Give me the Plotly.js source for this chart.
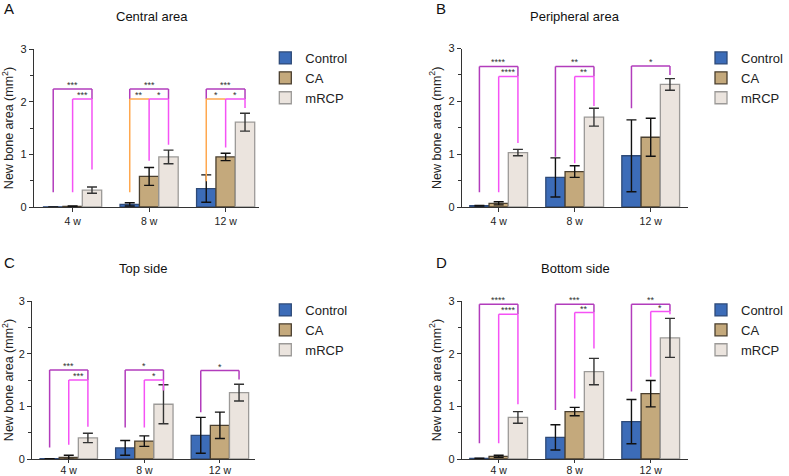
<!DOCTYPE html>
<html>
<head>
<meta charset="utf-8">
<script src="https://cdn.plot.ly/plotly-3.0.1.min.js"></script>
<style>html,body{margin:0;padding:0;background:#fff;}#chart{width:789px;height:476px;}</style>
</head>
<body>
<div id="chart"></div>
<script>
// ---------------- data ----------------
const categories = ['4 w', '8 w', '12 w'];
const groupNames = ['Control', 'CA', 'mRCP'];

const centralControl = [0.003, 0.05, 0.35];
const centralControlSD = [0.0, 0.03, 0.26];
const centralCA = [0.01, 0.58, 0.95];
const centralCASD = [0.01, 0.17, 0.07];
const centralMRCP = [0.32, 0.95, 1.61];
const centralMRCPSD = [0.06, 0.13, 0.17];

const peripheralControl = [0.025, 0.56, 0.97];
const peripheralControlSD = [0.005, 0.37, 0.68];
const peripheralCA = [0.07, 0.67, 1.32];
const peripheralCASD = [0.03, 0.11, 0.36];
const peripheralMRCP = [1.03, 1.70, 2.32];
const peripheralMRCPSD = [0.06, 0.17, 0.11];

const topControl = [0.005, 0.21, 0.45];
const topControlSD = [0.0, 0.14, 0.34];
const topCA = [0.03, 0.34, 0.64];
const topCASD = [0.04, 0.10, 0.25];
const topMRCP = [0.40, 1.04, 1.26];
const topMRCPSD = [0.09, 0.37, 0.16];

const bottomControl = [0.01, 0.41, 0.71];
const bottomControlSD = [0.005, 0.24, 0.42];
const bottomCA = [0.05, 0.90, 1.24];
const bottomCASD = [0.02, 0.08, 0.25];
const bottomMRCP = [0.79, 1.66, 2.30];
const bottomMRCPSD = [0.11, 0.25, 0.37];

// significance brackets: [category index, group from, group to, top, leg from, leg to, label, kind]
const centralBrackets = [
  [0, 0, 2, 2.24, 0.28, 2.05, '***', 'P'], [0, 1, 2, 2.05, 0.28, 0.71, '***', 'M'],
  [1, 0, 2, 2.24, 2.05, 2.05, '***', 'P'], [1, 0, 1, 2.05, 0.28, 2.05, '**', 'O'], [1, 1, 2, 2.05, 0.88, 1.18, '*', 'M'],
  [2, 0, 2, 2.24, 2.05, 2.05, '***', 'P'], [2, 0, 1, 2.05, 0.49, 2.05, '*', 'O'], [2, 1, 2, 2.05, 1.13, 1.88, '*', 'M']
];
const peripheralBrackets = [
  [0, 0, 2, 2.66, 0.28, 2.47, '****', 'P'], [0, 1, 2, 2.47, 0.28, 1.21, '****', 'M'],
  [1, 0, 2, 2.66, 0.95, 2.47, '**', 'P'], [1, 1, 2, 2.47, 0.83, 1.91, '**', 'M'],
  [2, 0, 2, 2.67, 1.87, 2.50, '*', 'P']
];
const topBrackets = [
  [0, 0, 2, 1.69, 0.22, 1.50, '***', 'P'], [0, 1, 2, 1.50, 0.27, 0.61, '***', 'M'],
  [1, 0, 2, 1.69, 0.60, 1.50, '*', 'P'], [1, 1, 2, 1.50, 0.60, 1.30, '*', 'M'],
  [2, 0, 2, 1.68, 0.89, 1.51, '*', 'P']
];
const bottomBrackets = [
  [0, 0, 2, 2.94, 0.30, 2.75, '****', 'P'], [0, 1, 2, 2.75, 0.30, 1.04, '****', 'M'],
  [1, 0, 2, 2.94, 0.93, 2.78, '***', 'P'], [1, 1, 2, 2.78, 1.15, 2.10, '**', 'M'],
  [2, 0, 2, 2.94, 1.28, 2.80, '**', 'P'], [2, 1, 2, 2.80, 1.56, 2.75, '*', 'M']
];

const panelTitles = ['Central area', 'Peripheral area', 'Top side', 'Bottom side'];
const panelLetters = ['A', 'B', 'C', 'D'];
const yTitle = 'New bone area (mm<sup>2</sup>)';

// ---------------- styling / layout ----------------
const W = 789, H = 476;
const FONT = '"Liberation Sans", Arial, Helvetica, sans-serif';
const fills = ['#3c6cb8', '#c4a97c', '#ebe4de'];
const outlines = ['#2e4a78', '#4a3f2e', '#9c9a98'];
const errColors = ['#111', '#111', '#333'];
const bracketColors = { P: '#b23cbc', M: '#f552f5', O: '#ffa84f' };
const BARGAP = 0.24;
const barW = (1 - BARGAP) / 3;

const panels = [
  { ctrl: centralControl, ctrlSD: centralControlSD, ca: centralCA, caSD: centralCASD, m: centralMRCP, mSD: centralMRCPSD, br: centralBrackets,
    px: [35, 267], py: [49, 207], xr: [-0.506, 2.43], leg: [274, 43], title: [157, 16.5], letter: [9.5, 8.5], xtl: 4, xso: 0 },
  { ctrl: peripheralControl, ctrlSD: peripheralControlSD, ca: peripheralCA, caSD: peripheralCASD, m: peripheralMRCP, mSD: peripheralMRCPSD, br: peripheralBrackets,
    px: [477, 710], py: [48.5, 207], xr: [-0.484, 2.484], leg: [724, 43], title: [594, 16.5], letter: [455.5, 8], xtl: 4, xso: 0 },
  { ctrl: topControl, ctrlSD: topControlSD, ca: topCA, caSD: topCASD, m: topMRCP, mSD: topMRCPSD, br: topBrackets,
    px: [33, 263], py: [301, 459], xr: [-0.487, 2.46], leg: [274, 295], title: [148, 268], letter: [9.5, 262], xtl: 3, xso: -2 },
  { ctrl: bottomControl, ctrlSD: bottomControlSD, ca: bottomCA, caSD: bottomCASD, m: bottomMRCP, mSD: bottomMRCPSD, br: bottomBrackets,
    px: [477, 710], py: [301, 459], xr: [-0.484, 2.484], leg: [724, 295], title: [594.5, 268], letter: [455.5, 262], xtl: 3, xso: -2 }
];

const data = [];
const layout = {
  width: W, height: H,
  margin: { l: 0, r: 0, t: 0, b: 0 },
  paper_bgcolor: '#fff', plot_bgcolor: '#fff',
  font: { family: FONT, color: '#222', size: 11 },
  barmode: 'group', bargap: BARGAP, bargroupgap: 0,
  shapes: [], annotations: []
};

panels.forEach((p, i) => {
  const n = i === 0 ? '' : String(i + 1);
  const xa = 'x' + n, ya = 'y' + n;
  const legName = 'legend' + n;
  const series = [[p.ctrl, p.ctrlSD], [p.ca, p.caSD], [p.m, p.mSD]];
  series.forEach((s, g) => {
    data.push({
      type: 'bar', x: categories, y: s[0], name: groupNames[g],
      xaxis: xa, yaxis: ya, legend: legName,
      marker: { color: fills[g], line: { color: outlines[g], width: 1.3 } },
      error_y: { type: 'data', array: s[1], visible: true, color: errColors[g], thickness: 1.4, width: 5 },
      hoverinfo: 'skip'
    });
  });
  layout['xaxis' + n] = {
    domain: [p.px[0] / W, p.px[1] / W], anchor: ya, type: 'category', range: p.xr,
    showline: true, linecolor: '#333', linewidth: 1, ticks: 'outside', ticklen: p.xtl, tickcolor: '#333',
    ticklabelstandoff: p.xso,
    showgrid: false, zeroline: false, tickfont: { size: 10.5, family: FONT, color: '#222' }, fixedrange: true
  };
  layout['yaxis' + n] = {
    domain: [1 - p.py[1] / H, 1 - p.py[0] / H], anchor: xa, range: [0, 3], dtick: 1,
    showline: true, linecolor: '#333', linewidth: 1, ticks: 'outside', ticklen: 4, tickcolor: '#333',
    minor: { dtick: 0.5, ticks: 'outside', ticklen: 3, tickcolor: '#333', showgrid: false },
    showgrid: false, zeroline: false, tickfont: { size: 11, family: FONT, color: '#222' },
    title: { text: yTitle, font: { size: 12.5, family: FONT, color: '#222' }, standoff: 4 }, fixedrange: true
  };
  layout[legName] = {
    x: p.leg[0] / W, y: 1 - p.leg[1] / H, xanchor: 'left', yanchor: 'top',
    font: { size: 13, family: FONT, color: '#222' }, bgcolor: 'rgba(0,0,0,0)', borderwidth: 0,
    traceorder: 'normal', itemclick: false, itemdoubleclick: false
  };
  p.br.forEach(b => {
    const [c, g1, g2, top, l1, l2, lab, kind] = b;
    const x1 = c + (g1 - 1) * barW, x2 = c + (g2 - 1) * barW;
    const line = { color: bracketColors[kind], width: 1.5 };
    const base = { type: 'line', xref: xa, yref: ya, line: line, layer: 'above' };
    layout.shapes.push(Object.assign({}, base, { x0: x1, x1: x1, y0: l1, y1: top }));
    layout.shapes.push(Object.assign({}, base, { x0: x1, x1: x2, y0: top, y1: top }));
    layout.shapes.push(Object.assign({}, base, { x0: x2, x1: x2, y0: top, y1: l2 }));
    layout.annotations.push({
      xref: xa, yref: ya, x: (x1 + x2) / 2, y: top, text: lab, showarrow: false,
      xanchor: 'center', yanchor: 'bottom', yshift: -3,
      font: { size: 9, family: FONT, color: '#333' }
    });
  });
  layout.annotations.push({
    xref: 'paper', yref: 'paper', x: p.title[0] / W, y: 1 - p.title[1] / H, text: panelTitles[i],
    showarrow: false, xanchor: 'center', yanchor: 'middle', font: { size: 13, family: FONT, color: '#111' }
  });
  layout.annotations.push({
    xref: 'paper', yref: 'paper', x: p.letter[0] / W, y: 1 - p.letter[1] / H, text: panelLetters[i],
    showarrow: false, xanchor: 'center', yanchor: 'middle', font: { size: 15, family: FONT, color: '#111' }
  });
});

Plotly.newPlot('chart', data, layout, { displayModeBar: false, staticPlot: true });
</script>
</body>
</html>
